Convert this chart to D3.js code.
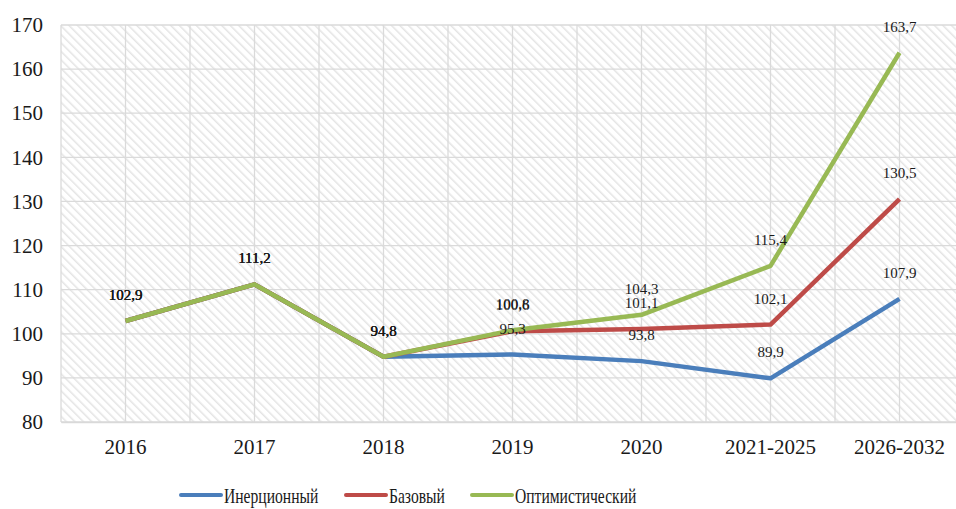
<!DOCTYPE html>
<html><head><meta charset="utf-8">
<script src="https://cdn.jsdelivr.net/npm/d3@7"></script>
<style>body{margin:0;background:#fff}svg{display:block}</style>
</head><body>
<script>
const categories = ["2016","2017","2018","2019","2020","2021-2025","2026-2032"];
const inertial = [102.9,111.2,94.8,95.3,93.8,89.9,107.9];
const base = [102.9,111.2,94.8,100.6,101.1,102.1,130.5];
const optimistic = [102.9,111.2,94.8,100.8,104.3,115.4,163.7];
const seriesNames = ["Инерционный","Базовый","Оптимистический"];
const seriesColors = ["#4a7ebb","#be4b48","#98b954"];
const yTicks = [80,90,100,110,120,130,140,150,160,170];

const W=956,H=509;
const m={left:61,top:25,right:964,bottom:422};
const FF="Liberation Serif";
const svg=d3.select("body").append("svg").attr("width",W).attr("height",H).attr("font-family",FF);
const defs=svg.append("defs");
const pat=defs.append("pattern").attr("id","hatch").attr("patternUnits","userSpaceOnUse")
  .attr("width",6).attr("height",6).attr("patternTransform","rotate(-45)");
pat.append("rect").attr("width",6).attr("height",6).attr("fill","#fff");
pat.append("line").attr("x1",0).attr("y1",0).attr("x2",0).attr("y2",6).attr("stroke","#e4e4e4").attr("stroke-width",3);

const x=d3.scaleBand().domain(categories).range([m.left,m.right]);
const y=d3.scaleLinear().domain([80,170]).range([m.bottom,m.top]);

svg.append("rect").attr("x",m.left).attr("y",m.top).attr("width",m.right-m.left).attr("height",m.bottom-m.top).attr("fill","url(#hatch)");

const g=svg.append("g");
g.selectAll(".hg").data(yTicks).join("line").attr("x1",m.left).attr("x2",m.right)
  .attr("y1",d=>y(d)).attr("y2",d=>y(d)).attr("stroke","#dadada").attr("stroke-width",1.3);
const vx=[];
categories.forEach(c=>{vx.push(x(c));vx.push(x(c)+x.bandwidth()/2);});
vx.push(m.right);
g.selectAll(".vg").data(vx).join("line").attr("x1",d=>d).attr("x2",d=>d)
  .attr("y1",m.top).attr("y2",m.bottom).attr("stroke","#dadada").attr("stroke-width",1.3);

const yAxis=d3.axisLeft(y).tickValues(yTicks).tickSize(0).tickPadding(18);
const ya=svg.append("g").attr("transform",`translate(${m.left},0)`).call(yAxis).attr("font-family",FF).attr("font-size",21);
ya.select(".domain").remove();
ya.selectAll("text").attr("fill","#1a1a1a");

const xAxis=d3.axisBottom(x).tickSize(0);
const xa=svg.append("g").attr("transform",`translate(0,${m.bottom})`).call(xAxis).attr("font-family",FF).attr("font-size",21);
xa.select(".domain").attr("stroke","#d9d9d9").attr("stroke-width",1.5);
xa.selectAll("text").attr("y",32).attr("dy",0).attr("fill","#1a1a1a");

const data=[inertial,base,optimistic];
const line=d3.line().x((d,i)=>x(categories[i])+x.bandwidth()/2).y(d=>y(d));
data.forEach((s,k)=>{
  svg.append("path").datum(s).attr("d",line).attr("fill","none")
    .attr("stroke",seriesColors[k]).attr("stroke-width",4.5).attr("stroke-linejoin","round");
});
const fmt=v=>d3.format(".1f")(v).replace(".",",");
data.forEach((s,k)=>{
  svg.append("g").selectAll("text").data(s).join("text")
    .attr("x",(d,i)=>x(categories[i])+x.bandwidth()/2)
    .attr("y",d=>y(d)-21)
    .attr("text-anchor","middle").attr("font-family",FF).attr("font-size",15).attr("fill","#1a1a1a")
    .text(d=>fmt(d));
});

const lx=[181,346,472];
const leg=svg.append("g");
seriesNames.forEach((n,k)=>{
  leg.append("line").attr("x1",lx[k]).attr("x2",lx[k]+40).attr("y1",495).attr("y2",495)
    .attr("stroke",seriesColors[k]).attr("stroke-width",4).attr("stroke-linecap","round");
  leg.append("text").attr("transform",`translate(${lx[k]+43},503) scale(0.78,1)`)
    .attr("font-family",FF).attr("font-size",20).attr("fill","#1a1a1a").text(n);
});
</script>
</body></html>
